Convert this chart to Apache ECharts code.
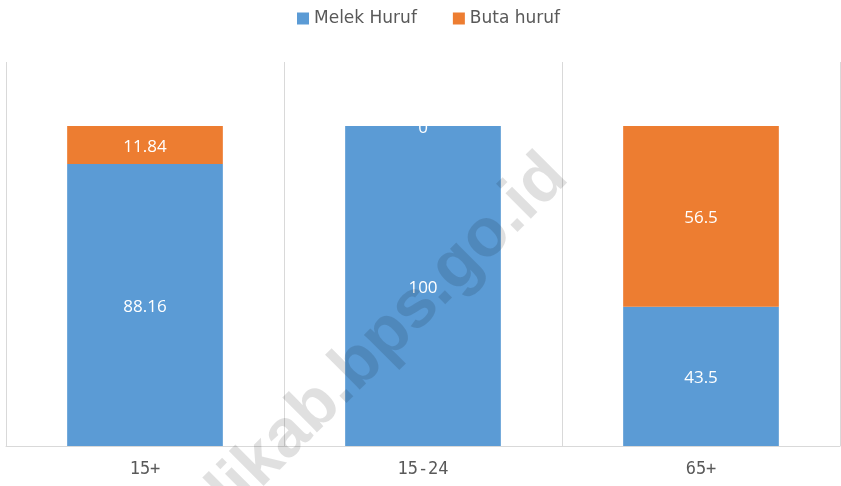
<!DOCTYPE html>
<html>
<head>
<meta charset="utf-8">
<script src="https://cdn.jsdelivr.net/npm/echarts@6/dist/echarts.min.js"></script>
<style>html,body{margin:0;padding:0;background:#fff}#c{width:841px;height:486px}</style>
</head>
<body>
<div id="c"></div>
<script>
var categories = ['15+', '15-24', '65+'];
var melekHuruf = [88.16, 100, 43.5];
var butaHuruf = [11.84, 0, 56.5];
var seriesNames = ['Melek Huruf', 'Buta huruf'];
var watermark = 'banglikab.bps.go.id';

var chart = echarts.init(document.getElementById('c'));
var labelStyle = {show: true, position: 'inside', color: '#ffffff', fontSize: 17, fontFamily: 'Open Sans, Noto Sans, sans-serif', offset: [0, 2]};
chart.setOption({
  animation: false,
  color: ['#5B9BD5', '#ED7D31'],
  legend: {
    top: 5, left: 292,
    itemWidth: 12, itemHeight: 12, itemGap: 36, icon: 'rect',
    textStyle: {color: '#595959', fontSize: 17, fontFamily: 'DejaVu Sans, sans-serif'},
    data: seriesNames
  },
  grid: {left: 6, right: 1, top: 62, bottom: 40},
  xAxis: {
    type: 'category', data: categories,
    axisLine: {lineStyle: {color: '#d9d9d9', width: 1}},
    axisTick: {show: false},
    splitLine: {show: true, lineStyle: {color: '#d9d9d9', width: 1}},
    axisLabel: {color: '#595959', fontSize: 17, margin: 15, fontFamily: 'DejaVu Sans Mono, Liberation Mono, monospace'}
  },
  yAxis: {type: 'value', min: 0, max: 120, show: false, splitLine: {show: false}},
  series: [
    {name: seriesNames[0], type: 'bar', stack: 's', barWidth: '56%', data: melekHuruf, label: labelStyle},
    {name: seriesNames[1], type: 'bar', stack: 's', barWidth: '56%', data: butaHuruf, label: labelStyle}
  ],
  graphic: [{
    type: 'text', x: 557, y: 166, rotation: 45 * Math.PI / 180, z: 100,
    style: {text: watermark, fill: 'rgba(0,0,0,0.12)', font: 'bold 68px Liberation Sans, Arial, sans-serif', textAlign: 'right', textVerticalAlign: 'middle'}
  }]
});
</script>
</body>
</html>
